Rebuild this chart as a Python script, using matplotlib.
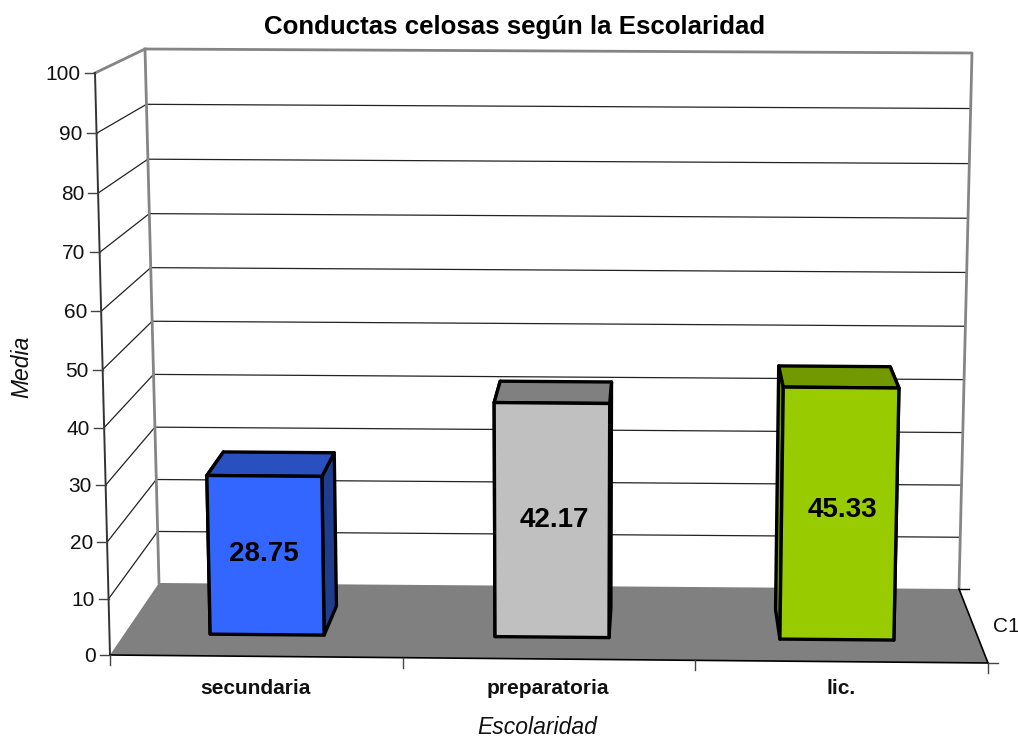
import matplotlib
matplotlib.use("Agg")
import matplotlib.pyplot as plt
from matplotlib.patches import Polygon

categories = ["secundaria", "preparatoria", "lic."]
values = [28.75, 42.17, 45.33]
value_labels = ["28.75", "42.17", "45.33"]
y_ticks = [0, 10, 20, 30, 40, 50, 60, 70, 80, 90, 100]

face_colors = ["#3366FF", "#C0C0C0", "#99CC00"]
top_colors = ["#2A50C0", "#808080", "#739900"]
side_colors = ["#1F3D8F", "#808080", "#739900"]

plt.rcParams["font.family"] = ["Liberation Sans", "DejaVu Sans"]

# corners of the plot box in canvas pixels: (x, y) for floor and ceiling, front and back
FL0, FR0 = (110, 655), (988, 663)
BL0, BR0 = (159, 583), (959, 589)
FL1, FR1 = (95, 73), (1003, 81)
BL1, BR1 = (145, 49), (972, 53)

BAR_WIDTH = 0.4
BAR_FRONT, BAR_BACK = 0.30, 0.70
LABEL_SHIFT = [(-2, -2), (2, -1), (3, -5)]


def mix(a, b, t):
    return (a[0] + (b[0] - a[0]) * t, a[1] + (b[1] - a[1]) * t)


def project(x, v, z):
    # x 0-1 across, v 0-100 up, z 0-1 into the box
    t = v / (v + (100 - v) * 1.04)
    floor = mix(mix(FL0, FR0, x), mix(BL0, BR0, x), z)
    ceil = mix(mix(FL1, FR1, x), mix(BL1, BR1, x), z)
    return mix(floor, ceil, t)


def line(ax, pts, color="black", lw=1.0, z=2):
    ax.plot([p[0] for p in pts], [p[1] for p in pts], color=color, lw=lw, zorder=z,
            solid_capstyle="projecting")


fig = plt.figure(figsize=(10.18, 7.38), dpi=100)
ax = fig.add_axes([0, 0, 1, 1])
ax.set_xlim(0, 1018)
ax.set_ylim(738, 0)
ax.axis("off")

# floor
ax.add_patch(Polygon([FL0, FR0, BR0, BL0], closed=True, fc="#808080", ec="none", zorder=1))

# gridlines on the back and left walls
for v in y_ticks[1:-1]:
    line(ax, [project(0, v, 0), project(0, v, 1), project(1, v, 1)], "#222222", 0.9, 2)

# wall outlines
line(ax, [project(0, 100, 0), BL1, BR1, BR0], "#858585", 2.0, 3)
line(ax, [BL1, BL0], "#858585", 2.0, 3)

# axis lines and ticks
line(ax, [FL1, FL0], "#333333", 1.4, 4)
line(ax, [FL0, FR0], "black", 1.2, 4)
line(ax, [BR0, FR0], "black", 1.2, 4)
for v in y_ticks:
    p = project(0, v, 0)
    line(ax, [(p[0] - 10, p[1]), p], "#444444", 1.0, 4)
    ax.text(p[0] - 14, p[1] + 1.5, str(v), ha="right", va="center", fontsize=15, color="#111111")

for i in range(len(categories) + 1):
    p = project(i / len(categories), 0, 0)
    line(ax, [p, (p[0], p[1] + 10)], "#444444", 1.0, 4)

line(ax, [BR0, (BR0[0] + 10, BR0[1])], "black", 1.0, 4)
line(ax, [FR0, (FR0[0] + 10, FR0[1])], "#444444", 1.0, 4)

# bars: sides first, then the top and the front so hidden edges get covered
n = len(categories)
for i, (val, lab) in enumerate(zip(values, value_labels)):
    x0 = (i + 0.5 - BAR_WIDTH / 2) / n
    x1 = (i + 0.5 + BAR_WIDTH / 2) / n
    f00 = project(x0, 0, BAR_FRONT)
    f10 = project(x1, 0, BAR_FRONT)
    f01 = project(x0, val, BAR_FRONT)
    f11 = project(x1, val, BAR_FRONT)
    b00 = project(x0, 0, BAR_BACK)
    b10 = project(x1, 0, BAR_BACK)
    b01 = project(x0, val, BAR_BACK)
    b11 = project(x1, val, BAR_BACK)
    kw = dict(closed=True, ec="black", lw=2.4, joinstyle="round", zorder=5)
    ax.add_patch(Polygon([f10, f11, b11, b10], fc=side_colors[i], **kw))
    ax.add_patch(Polygon([f00, f01, b01, b00], fc=side_colors[i], **kw))
    ax.add_patch(Polygon([b01, b11, f11, f01], fc=top_colors[i], **kw))
    ax.add_patch(Polygon([f00, f10, f11, f01], fc=face_colors[i], **kw))
    mid = project((x0 + x1) / 2, val / 2, BAR_FRONT)
    ax.text(mid[0] + LABEL_SHIFT[i][0], mid[1] + LABEL_SHIFT[i][1], lab, ha="center", va="center",
            fontsize=20, fontweight="bold", color="black", zorder=6)

    p = project((i + 0.5) / n, 0, 0)
    ax.text(p[0] - 1, 689, categories[i], ha="center", va="center", fontsize=15,
            fontweight="bold", color="#111111")

ax.text(1006, 626, "C1", ha="center", va="center", fontsize=15, color="#111111")
ax.text(515, 27, "Conductas celosas según la Escolaridad", ha="center", va="center",
        fontsize=18.6, fontweight="bold", color="black")
ax.text(537, 727, "Escolaridad", ha="center", va="center", fontsize=16.5, style="italic",
        color="#111111")
ax.text(22, 367, "Media", ha="center", va="center", rotation=90, fontsize=16.5, style="italic",
        color="#111111")

fig.savefig("out.png", dpi=100)
